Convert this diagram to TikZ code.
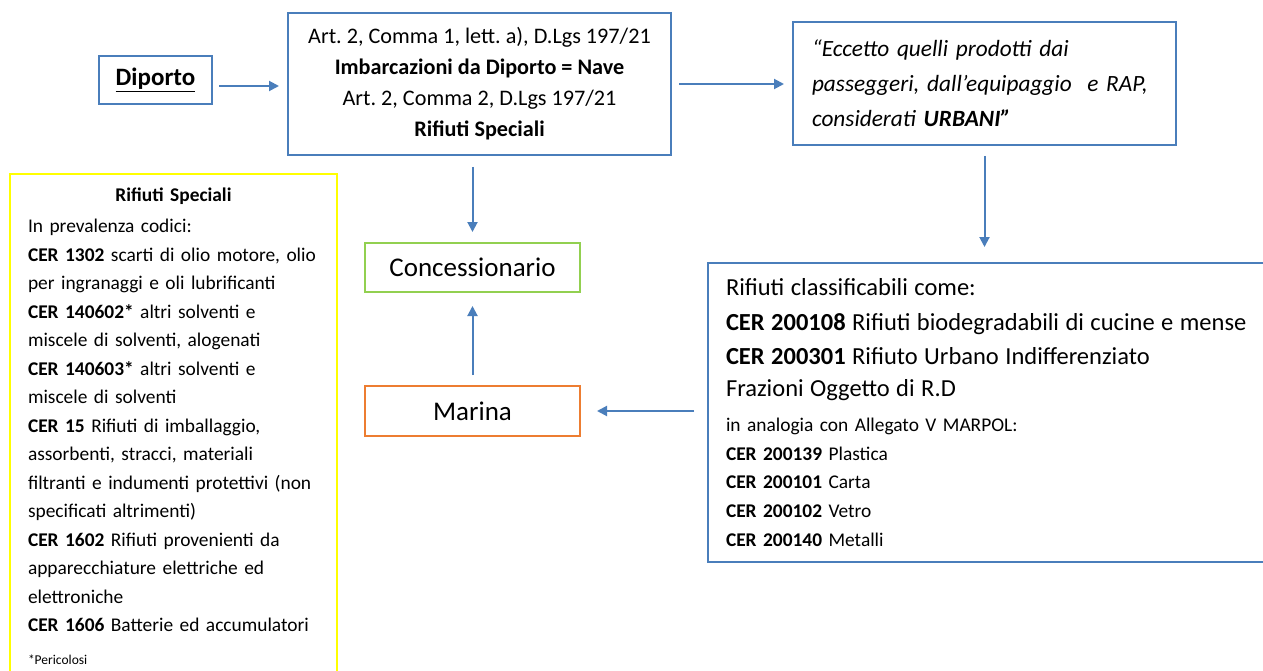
\documentclass[tikz,border=0pt]{standalone}
\usepackage{fontspec}
\setmainfont{Carlito}
\usetikzlibrary{arrows.meta}
\frenchspacing

\definecolor{boxblue}{RGB}{74,126,187}
\definecolor{greenline}{RGB}{146,208,80}
\definecolor{orangeline}{RGB}{237,125,49}
\definecolor{yellowline}{RGB}{255,255,0}

\begin{document}
\begin{tikzpicture}[%
        x = 1pt,
        y = -1pt,
        > = {Triangle[length = 10pt, width = 10pt]},
        box/.style = {draw = boxblue, line width = 2pt, inner sep = 0pt},
        arrow/.style = {->, draw = boxblue, fill = boxblue, line width = 2pt}
    ]

        % Page frame.
        \fill[white] (0, 0) rectangle (1263, 671);
        \useasboundingbox (0, 0) rectangle (1263, 671);

        % Top row.
        \node[box, minimum width = 113pt, minimum height = 48pt,
            font = \fontsize{25}{30}\selectfont\bfseries] (diporto) at (155.5, 80)
            {\underline{Diporto}};

        \node[box, minimum width = 383pt, minimum height = 142pt, align = center,
            font = \fontsize{22.2}{31}\selectfont] (art) at (479.5, 84)
            {Art. 2, Comma 1, lett. a), D.Lgs 197/21\\
             \textbf{Imbarcazioni da Diporto = Nave}\\
             Art. 2, Comma 2, D.Lgs 197/21\\
             \textbf{Rifiuti Speciali}};

        \node[box, minimum height = 123pt, text width = 345pt, inner xsep = 19pt,
            align = left, font = \fontsize{23.3}{35}\selectfont\itshape] (eccetto) at (984.5, 83.5)
            {“Eccetto quelli prodotti dai\\
             passeggeri, dall’equipaggio \ e RAP,\\
             considerati \textbf{URBANI”}};

        % Middle column.
        \node[draw = greenline, line width = 2pt, minimum width = 215pt, minimum height = 49pt,
            font = \fontsize{27}{31}\selectfont] (concessionario) at (472.5, 267.5)
            {Concessionario};

        \node[draw = orangeline, line width = 2pt, minimum width = 215pt, minimum height = 50pt,
            font = \fontsize{27}{31}\selectfont] (marina) at (472.5, 411)
            {Marina};

        % Left list.
        \node[draw = yellowline, line width = 2pt, anchor = north west,
            minimum width = 327pt, minimum height = 505pt, text width = 291pt,
            inner xsep = 18pt, inner ysep = 0pt, align = left,
            font = \fontsize{19.4}{28.5}\selectfont] (speciali) at (9, 173)
            {\makebox[291pt]{\textbf{Rifiuti Speciali}}\\[2.5pt]
             In prevalenza codici:\\
             \textbf{CER 1302} scarti di olio motore, olio\\
             per ingranaggi e oli lubrificanti\\
             \textbf{CER 140602*} altri solventi e\\
             miscele di solventi, alogenati\\
             \textbf{CER 140603*} altri solventi e\\
             miscele di solventi\\
             \textbf{CER 15} Rifiuti di imballaggio,\\
             assorbenti, stracci, materiali\\
             filtranti e indumenti protettivi (non\\
             specificati altrimenti)\\
             \textbf{CER 1602} Rifiuti provenienti da\\
             apparecchiature elettriche ed\\
             elettroniche\\
             \textbf{CER 1606} Batterie ed accumulatori\\[4.5pt]
             {\fontsize{13.5}{15}\selectfont *Pericolosi}};

        % Right list.
        \node[box, anchor = north west, minimum width = 573pt, minimum height = 299pt,
            text width = 537pt, inner xsep = 18pt, align = left,
            font = \fontsize{19.4}{28.7}\selectfont] (classificabili) at (707, 262)
            {{\fontsize{24.5}{28.7}\selectfont Rifiuti classificabili come:\\[6.3pt]
              \textbf{CER 200108} Rifiuti biodegradabili di cucine e mense\\[5.3pt]
              \textbf{CER 200301} Rifiuto Urbano Indifferenziato\\[3.3pt]
              Frazioni Oggetto di R.D}\\[6.3pt]
             in analogia con Allegato V MARPOL:\\
             \textbf{CER 200139} Plastica\\
             \textbf{CER 200101} Carta\\
             \textbf{CER 200102} Vetro\\
             \textbf{CER 200140} Metalli};

        % Connectors.
        \begin{scope}[arrow]
            \draw[shorten <= 6pt, shorten >= 8pt]
                ([yshift = -6pt]diporto.east) -- ([yshift = -6pt]diporto.east -| art.west);
            \draw[shorten <= 7pt, shorten >= 8pt]
                (art.east) -- (art.east -| eccetto.west);
            \draw[shorten <= 11pt, shorten >= 10pt]
                (concessionario.north |- art.south) -- (concessionario.north);
            \draw[shorten <= 10pt, shorten >= 15pt]
                (eccetto.south) -- (eccetto.south |- classificabili.north);
            \draw[shorten <= 10pt, shorten >= 13pt]
                (marina.north) -- (concessionario.south);
            \draw[shorten <= 13pt, shorten >= 16pt]
                (marina.east -| classificabili.west) -- (marina.east);
        \end{scope}
    \end{tikzpicture}
\end{document}
